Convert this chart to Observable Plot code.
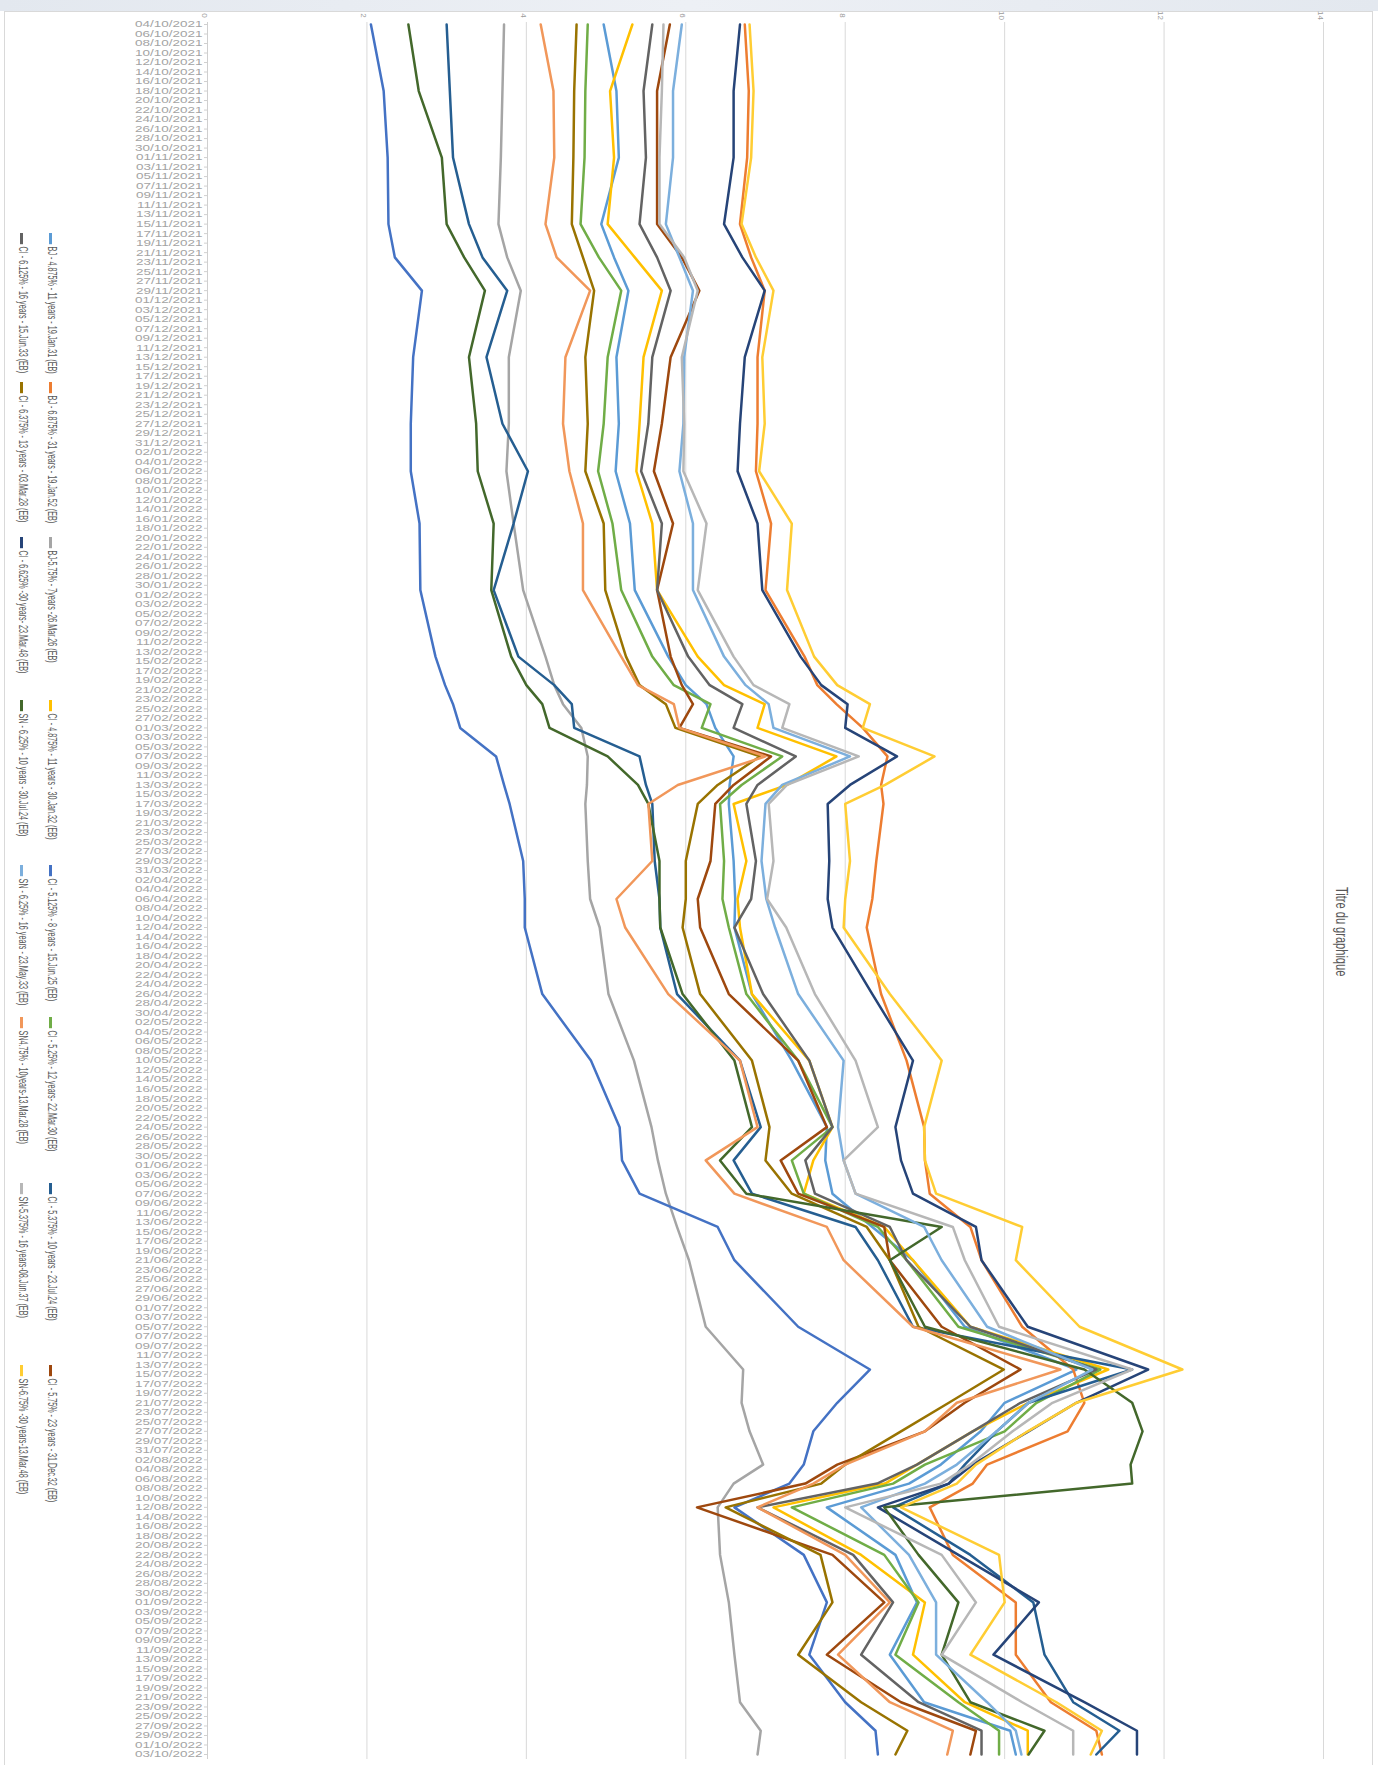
<!DOCTYPE html>
<html><head><meta charset="utf-8">
<script src="https://cdn.jsdelivr.net/npm/d3@7"></script>
<script src="https://cdn.jsdelivr.net/npm/@observablehq/plot@0.6"></script>
<style>
html,body{margin:0;padding:0;background:#fff;}
#page{position:relative;width:1378px;height:1765px;overflow:hidden;font-family:"Liberation Sans",Arial,sans-serif;background:#fff;}
#band{position:absolute;left:0;top:0;width:1378px;height:11px;background:linear-gradient(90deg,#e3e8ef,#edf0f5 50%,#e3e8ef);}
#frame{position:absolute;left:4px;top:11px;width:1369px;height:1760px;border:1px solid #d9d9d9;border-bottom:none;box-sizing:border-box;}
#chart{position:absolute;left:0;top:0;}
.rot{position:absolute;transform-origin:0 0;white-space:nowrap;color:#595959;}
.key{display:inline-block;width:14px;height:2px;vertical-align:middle;margin-right:3px;}
#chart g[aria-label="y-axis tick"]{stroke:#d0d0d0;}
</style></head>
<body><div id="page"><div id="band"></div><div id="frame"></div><div id="chart"></div></div>
<script>
// ---- data ----
const dates = ["2021-10-04","2021-10-18","2021-11-01","2021-11-15","2021-11-22","2021-11-29","2021-12-13","2021-12-27",
  "2022-01-06","2022-01-17","2022-01-31","2022-02-14","2022-02-20","2022-02-24","2022-03-01","2022-03-07","2022-03-13","2022-03-17","2022-03-29","2022-04-06",
  "2022-04-12","2022-04-26","2022-05-10","2022-05-24","2022-05-31","2022-06-07","2022-06-14","2022-06-21","2022-07-05",
  "2022-07-14","2022-07-21","2022-07-27","2022-08-03","2022-08-07","2022-08-12","2022-08-22","2022-09-01","2022-09-12","2022-09-22","2022-09-28","2022-10-03"];

const seriesNames = [
  "BJ - 4.875% - 11 years - 19.Jan.31 (EB)",
  "BJ - 6.875% - 31 years - 19.Jan.52 (EB)",
  "BJ-5.75% - 7years -26.Mar.26 (EB)",
  "CI - 4.875% - 11 years - 30.Jan.32 (EB)",
  "CI - 5.125% - 8 years - 15.Jun.25 (EB)",
  "CI - 5.25% - 12 years- 22.Mar.30 (EB)",
  "CI - 5.375% - 10 years - 23.Jul.24 (EB)",
  "CI - 5.75% - 23 years - 31.Dec.32 (EB)",
  "CI - 6.125% - 16 years - 15.Jun.33 (EB)",
  "CI - 6.375% - 13 years - 03.Mar.28 (EB)",
  "CI - 6.625% -30 years- 23.Mar.48 (EB)",
  "SN - 6.25% - 10 years - 30.Jul.24 (EB)",
  "SN - 6.25% - 16 years - 23.May.33 (EB)",
  "SN4.75% - 10years-13.Mar.28 (EB)",
  "SN-5.375% - 16 years-08.Jun.37 (EB)",
  "SN-6.75% -30 years-13.Mar.48 (EB)"
];
const seriesColors = ["#5B9BD5","#ED7D31","#A5A5A5","#FFC000","#4472C4","#70AD47","#255E91","#9E480E",
  "#636363","#997300","#264478","#43682B","#7CAFDD","#F1975A","#B7B7B7","#FFCD33"];

const bj4875 = [4.97,5.13,5.16,4.94,5.1,5.28,5.13,5.16, 5.12,5.3,5.36,5.78,6.0,6.26,6.37,6.6,6.55,6.54,6.6,6.62, 6.61,6.83,7.33,7.77,7.75,7.84,8.34,8.85,9.5, 10.9,10.0,9.7,9.2,8.8,7.77,8.63,8.9,8.56,8.99,10.07,10.14];
const bj6875 = [6.74,6.79,6.77,6.68,6.82,6.99,6.9,6.9, 6.88,7.07,7.0,7.49,7.65,7.89,8.22,8.53,8.45,8.48,8.39,8.34, 8.27,8.45,8.77,8.99,9.0,9.06,9.57,9.71,10.22, 10.86,11.0,10.79,9.78,9.6,9.06,9.35,10.14,10.14,10.58,11.15,11.22];
const bj575 = [3.72,3.7,3.68,3.65,3.76,3.93,3.78,3.78, 3.75,3.84,3.96,4.24,4.35,4.46,4.69,4.77,4.76,4.74,4.77,4.8, 4.92,5.03,5.35,5.57,5.65,5.75,5.89,6.04,6.25, 6.72,6.7,6.8,6.97,6.6,6.4,6.43,6.54,6.61,6.68,6.94,6.9];
const ci4875 = [5.33,5.05,5.1,5.02,5.36,5.7,5.47,5.42, 5.38,5.58,5.64,6.15,6.48,6.99,6.9,7.89,7.27,6.6,6.76,6.65, 6.68,6.83,7.55,7.84,7.6,7.48,8.49,8.85,9.57, 11.3,10.3,9.6,8.9,8.5,7.1,8.2,9.0,8.85,9.5,10.29,10.29];
const ci5125 = [2.05,2.21,2.26,2.27,2.35,2.69,2.58,2.55, 2.55,2.66,2.67,2.86,2.98,3.08,3.17,3.62,3.72,3.79,3.96,3.98, 3.98,4.2,4.81,5.17,5.2,5.42,6.4,6.61,7.41, 8.31,7.9,7.6,7.48,7.3,6.61,7.48,7.77,7.55,8.0,8.38,8.41];
const ci525 = [4.77,4.74,4.73,4.68,4.91,5.19,5.02,4.97, 4.9,5.08,5.19,5.58,5.85,6.31,6.2,7.21,6.7,6.43,6.48,6.46, 6.54,6.76,7.41,7.84,7.33,7.48,8.41,8.77,9.42, 11.2,10.4,10.0,9.0,8.6,7.33,8.49,8.92,8.63,9.42,9.93,9.93];
const ci5375 = [3.0,3.04,3.08,3.28,3.45,3.76,3.5,3.7, 4.02,3.84,3.59,3.9,4.35,4.57,4.6,5.42,5.5,5.58,5.61,5.67, 5.68,5.89,6.68,6.94,6.6,6.83,8.13,8.41,8.85, 11.6,10.3,9.9,9.5,9.3,8.6,9.57,10.36,10.5,10.86,11.44,11.15];
const ci575 = [5.8,5.64,5.64,5.64,5.95,6.17,5.81,5.7, 5.6,5.84,5.64,5.81,5.95,6.09,5.92,7.07,6.6,6.37,6.31,6.15, 6.18,6.54,7.41,7.77,7.19,7.41,8.49,8.56,9.21, 10.2,9.5,9.0,7.9,7.5,6.14,7.84,8.49,7.77,8.7,9.64,9.57];
const ci6125 = [5.58,5.47,5.5,5.42,5.64,5.81,5.58,5.53, 5.44,5.7,5.64,6.03,6.3,6.71,6.6,7.38,6.9,6.76,6.88,6.82, 6.61,6.97,7.55,7.84,7.5,7.62,8.56,8.77,9.57, 11.15,10.2,9.6,8.9,8.4,6.9,8.1,8.6,8.2,8.92,9.71,9.71];
const ci6375 = [4.63,4.6,4.59,4.57,4.71,4.85,4.74,4.77, 4.74,4.97,4.99,5.25,5.42,5.75,5.87,6.93,6.4,6.15,6.0,6.0, 5.96,6.18,6.83,7.05,7.0,7.33,8.27,8.56,8.92, 9.99,9.3,8.7,8.0,7.7,6.5,7.69,7.84,7.41,8.2,8.78,8.63];
const ci6625 = [6.68,6.6,6.6,6.48,6.71,6.99,6.74,6.68, 6.65,6.9,6.96,7.44,7.7,8.03,8.0,8.65,8.06,7.78,7.8,7.78, 7.84,8.34,8.85,8.63,8.7,8.85,9.64,9.71,10.29, 11.8,10.9,10.3,9.6,9.3,8.41,9.42,10.43,9.86,11.0,11.66,11.66];
const sn625a = [2.52,2.65,2.94,3.0,3.22,3.48,3.28,3.37, 3.39,3.59,3.56,3.81,4.0,4.2,4.29,5.02,5.4,5.53,5.67,5.67, 5.68,5.96,6.61,6.83,6.43,6.76,9.21,8.56,9.0, 11.0,11.6,11.73,11.58,11.6,8.49,8.92,9.42,9.21,9.57,10.5,10.3];
const sn625b = [5.95,5.84,5.84,5.75,5.92,6.09,5.98,5.97, 5.92,6.09,6.09,6.48,6.75,7.04,7.1,8.06,7.21,7.0,6.95,7.01, 7.12,7.41,7.98,7.91,7.98,8.13,8.99,9.21,9.78, 11.1,10.3,9.9,9.4,9.0,8.2,8.8,9.14,9.14,9.78,10.14,10.21];
const sn475 = [4.18,4.34,4.35,4.24,4.38,4.8,4.49,4.46, 4.54,4.71,4.71,5.19,5.4,5.85,5.92,7.0,5.9,5.53,5.58,5.13, 5.24,5.78,6.68,6.9,6.25,6.61,7.77,7.98,8.85, 10.7,9.4,9.0,8.0,7.6,6.9,8.0,8.56,7.91,8.56,9.35,9.28];
const sn5375 = [5.72,5.7,5.67,5.67,5.98,6.15,5.95,5.98, 5.97,6.26,6.15,6.6,6.85,7.3,7.21,8.17,7.27,7.04,7.1,7.02, 7.26,7.62,8.13,8.41,7.98,8.13,9.35,9.5,9.93, 11.6,10.6,10.1,9.57,9.2,8.0,9.21,9.64,9.21,10.22,10.86,10.86];
const sn675 = [6.8,6.85,6.82,6.7,6.88,7.1,6.96,6.99, 6.92,7.33,7.27,7.61,7.9,8.31,8.22,9.12,8.5,8.0,8.06,8.0, 7.98,8.56,9.21,8.99,9.0,9.14,10.22,10.14,10.94, 12.23,10.9,10.29,9.64,9.4,8.7,9.93,10.0,9.57,10.65,11.22,11.08];

const valueTicks = [0,2,4,6,8,10,12,14];

// ---- build ----
const seriesValues = [bj4875,bj6875,bj575,ci4875,ci5125,ci525,ci5375,ci575,ci6125,ci6375,ci6625,sn625a,sn625b,sn475,sn5375,sn675];
const parse = d3.utcParse("%Y-%m-%d");
const rows = [];
seriesValues.forEach((vals, i) => {
  if (vals.length !== dates.length) console.error("length mismatch", seriesNames[i], vals.length);
  vals.forEach((v, j) => rows.push({series: seriesNames[i], date: parse(dates[j]), value: v}));
});
const start = parse(dates[0]), end = parse(dates[dates.length - 1]);
const tickDates = d3.range(0, 183).map(k => d3.utcDay.offset(start, 2 * k));

const chart = Plot.plot({
  width: 1378,
  height: 1765,
  marginLeft: 207,
  marginRight: 55,
  marginTop: 22,
  marginBottom: 6,
  style: {color: "#a3a3a3", fontFamily: "Liberation Sans, Arial, sans-serif", fontSize: "9px", background: "transparent"},
  x: {domain: [0, 14], axis: null},
  y: {type: "utc", domain: [start, end], range: [24, 1754], ticks: tickDates, tickFormat: d3.utcFormat("%d/%m/%Y"), tickSize: 3, tickPadding: 2, label: null},
  color: {domain: seriesNames, range: seriesColors},
  marks: [
    Plot.ruleX(valueTicks.filter(v => v > 0), {stroke: "#d9d9d9", strokeWidth: 1}),
    Plot.ruleX([0], {stroke: "#cfcfcf", strokeWidth: 1}),
    Plot.text(valueTicks, {x: d => d, text: d => String(d), frameAnchor: "top", dy: -7, rotate: 90, fontSize: 8, fill: "#9a9a9a"}),
    Plot.line(rows, {x: "value", y: "date", z: "series", stroke: "series", strokeWidth: 2.5, strokeLinejoin: "round", strokeLinecap: "round"})
  ]
});
document.getElementById("chart").append(chart);

// stretch date labels horizontally like the reference picture
const svg = chart.tagName.toLowerCase() === "svg" ? chart : chart.querySelector("svg");
svg.querySelectorAll("text").forEach(t => {
  if (/^\d\d\/\d\d\/\d{4}$/.test(t.textContent.trim())) {
    const b = t.getBBox();
    const ax = b.x + b.width;
    const tr = t.getAttribute("transform") || "";
    t.setAttribute("transform", `${tr} translate(${ax},0) scale(1.5,1) translate(${-ax},0)`);
  }
});

// ---- legend (rotated, two rows) ----
const page = document.getElementById("page");
const slotTops = [233, 382, 537, 700, 865, 1017, 1183, 1365];
const rowLefts = [61, 32];
seriesNames.forEach((name, i) => {
  const row = Math.floor(i / 8), slot = i % 8;
  const div = document.createElement("div");
  div.className = "rot";
  div.style.left = rowLefts[row] + "px";
  div.style.top = slotTops[slot] + "px";
  div.style.fontSize = "9px";
  div.style.lineHeight = "12px";
  div.style.transform = "rotate(90deg) scale(0.8,1.5)";
  const key = document.createElement("span");
  key.className = "key";
  key.style.background = seriesColors[i];
  const txt = document.createElement("span");
  txt.textContent = name;
  div.append(key, txt);
  page.append(div);
});

// ---- title (rotated) ----
const title = document.createElement("div");
title.className = "rot";
title.textContent = "Titre du graphique";
title.style.fontSize = "13px";
title.style.lineHeight = "16px";
title.style.left = "1350px";
title.style.transform = "rotate(90deg) scale(0.85,1.2)";
page.append(title);
const tw = title.offsetWidth * 0.85;
title.style.top = (932 - tw / 2) + "px";
</script></body></html>
